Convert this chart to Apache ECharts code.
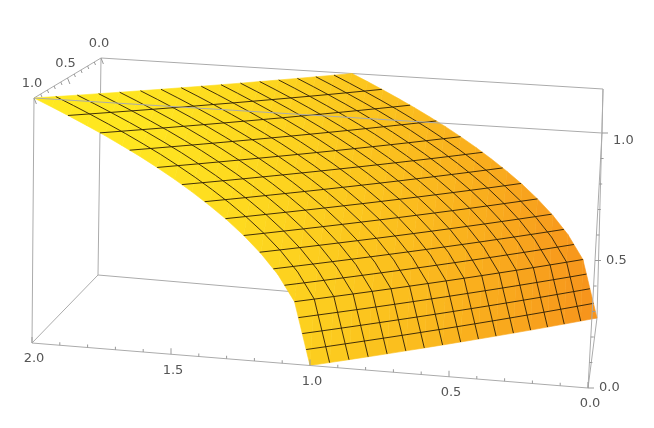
<!DOCTYPE html>
<html>
<head>
<meta charset="utf-8">
<script src="https://cdn.jsdelivr.net/npm/echarts@6/dist/echarts.min.js"></script>
<style>html,body{margin:0;padding:0;background:#fff}#main{width:654px;height:428px}</style>
</head>
<body>
<div id="main"></div>
<script>
// grid of the surface: x across (0..2), y in depth (0 back .. 1 front), step 1/16
var xs = [0, .0625, .125, .1875, .25, .3125, .375, .4375, .5, .5625, .625, .6875, .75, .8125, .875, .9375,
  1, 1.0625, 1.125, 1.1875, 1.25, 1.3125, 1.375, 1.4375, 1.5, 1.5625, 1.625, 1.6875, 1.75, 1.8125, 1.875, 1.9375, 2];
var ys = [0, .0625, .125, .1875, .25, .3125, .375, .4375, .5, .5625, .625, .6875, .75, .8125, .875, .9375, 1];
// height of the surface by how far x runs ahead of y (in 1/16 steps); outside 0..16 nothing is drawn
var levels = [0, .25, .354, .433, .5, .559, .612, .661, .707, .75, .791, .829, .866, .901, .935, .968, 1];
// heights of the contour mesh lines
var meshZ = [.0625, .125, .1875, .25, .3125, .375, .4375, .5, .5625, .625, .6875, .75, .8125, .875, .9375];

var xTicks = ['0.0', '0.5', '1.0', '1.5', '2.0'];
var yTicks = ['0.0', '0.5', '1.0'];
var zTicks = ['0.0', '0.5', '1.0'];

function zAt(i, j) {
  var k = i - j;
  return (k >= 0 && k < levels.length) ? levels[k] : null;
}
// offset (x - y) where the surface reaches height zt, read back from the levels table
function offsetAt(zt) {
  for (var k = 0; k < levels.length - 1; k++) {
    if (zt <= levels[k + 1]) return (k + (zt - levels[k]) / (levels[k + 1] - levels[k])) / 16;
  }
  return 1;
}

// box corners on screen [u=x/2][v=y][w=z]
var C = {
  '000': [597, 318], '001': [603, 89], '010': [588, 388], '011': [602, 133],
  '100': [98, 275], '101': [101, 58], '110': [32, 343], '111': [34, 98]
};
function proj(x, y, z) {
  var u = x / 2, v = y, w = z, p = [0, 0];
  for (var a = 0; a < 2; a++) for (var b = 0; b < 2; b++) for (var c = 0; c < 2; c++) {
    var k = (a ? u : 1 - u) * (b ? v : 1 - v) * (c ? w : 1 - w);
    var q = C['' + a + b + c];
    p[0] += k * q[0]; p[1] += k * q[1];
  }
  return p;
}

// surface cells, back rows first
var cells = [];
for (var j = 0; j < ys.length - 1; j++) {
  for (var i = 0; i < xs.length - 1; i++) {
    var cs = [[i, j], [i + 1, j], [i + 1, j + 1], [i, j + 1]];
    var pts = [];
    cs.forEach(function (c) {
      var z = zAt(c[0], c[1]);
      if (z != null) pts.push(proj(xs[c[0]], ys[c[1]], z));
    });
    if (pts.length < 3) continue;
    var cx = 0;
    pts.forEach(function (p) { cx += p[0] / pts.length; });
    var t = Math.max(0, Math.min(1, (cx - 80) / 510));
    t = Math.pow(t, 1.5);
    var col = 'rgb(' + Math.round(255 - 8 * t) + ',' + Math.round(232 - 84 * t) + ',' + Math.round(32 - 4 * t) + ')';
    cells.push({ pts: pts, color: col });
  }
}

// mesh lines: constant y every 1/16, constant height every 1/16
var mesh = [];
for (var j3 = 1; j3 < ys.length - 1; j3++) {
  var line2 = [];
  for (var i3 = 0; i3 < xs.length; i3++) {
    var z3 = zAt(i3, j3);
    if (z3 != null) line2.push(proj(xs[i3], ys[j3], z3));
  }
  if (line2.length > 1) mesh.push(line2);
}
meshZ.forEach(function (zt) {
  var off = offsetAt(zt), line = [];
  for (var j2 = 0; j2 < ys.length; j2++) line.push(proj(ys[j2] + off, ys[j2], zt));
  mesh.push(line);
});

var boxBack = [['000', '001'], ['000', '010'], ['000', '100'], ['100', '101'], ['100', '110'], ['101', '001'], ['101', '111'], ['001', '011']];
var boxFront = [['110', '111'], ['111', '011'], ['011', '010'], ['010', '110']];

function edgeSeries(list, zz) {
  return {
    type: 'custom', data: list.map(function (e, n) { return n; }), z: zz, silent: true,
    renderItem: function (params, api) {
      var e = list[params.dataIndex];
      var a = api.coord(C[e[0]]), b = api.coord(C[e[1]]);
      return { type: 'line', shape: { x1: a[0], y1: a[1], x2: b[0], y2: b[1] }, style: { stroke: '#ababab', lineWidth: 1 } };
    }
  };
}

var chart = echarts.init(document.getElementById('main'));
chart.setOption({
  animation: false,
  grid: { left: 0, right: 0, top: 0, bottom: 0 },
  xAxis: { type: 'value', min: 0, max: 654, show: false },
  yAxis: { type: 'value', min: 0, max: 428, inverse: true, show: false },
  series: [
    edgeSeries(boxBack, 1),
    {
      type: 'custom', data: cells.map(function (c, n) { return n; }), z: 2, silent: true,
      renderItem: function (params, api) {
        var c = cells[params.dataIndex];
        return {
          type: 'polygon', shape: { points: c.pts.map(function (p) { return api.coord(p); }) },
          style: { fill: c.color, stroke: c.color, lineWidth: 0.6 }
        };
      }
    },
    {
      type: 'custom', data: mesh.map(function (m, n) { return n; }), z: 3, silent: true,
      renderItem: function (params, api) {
        return {
          type: 'polyline', shape: { points: mesh[params.dataIndex].map(function (p) { return api.coord(p); }) },
          style: { stroke: 'rgba(45,30,5,0.9)', lineWidth: 1, fill: null }
        };
      }
    },
    edgeSeries(boxFront, 4),
    {
      type: 'custom', data: [0], z: 5, silent: true,
      renderItem: function (params, api) {
        var ch = [], k;
        var tick = function (p0, d, len) {
          var a = api.coord(p0);
          ch.push({ type: 'line', shape: { x1: a[0], y1: a[1], x2: a[0] + d[0] * len, y2: a[1] + d[1] * len }, style: { stroke: '#999', lineWidth: 1 } });
        };
        var label = function (p0, txt, dx, dy, align) {
          var a = api.coord(p0);
          ch.push({ type: 'text', x: a[0] + dx, y: a[1] + dy, style: { text: txt, fill: '#555', font: '13px "DejaVu Sans"', align: align, verticalAlign: 'middle' } });
        };
        for (k = 0; k <= 20; k++) tick(proj(k / 10, 1, 0), [0, -1], k % 5 ? 3 : 6);
        for (k = 0; k < xTicks.length; k++) label(proj(k * 0.5, 1, 0), xTicks[k], 2, 16, 'center');
        for (k = 0; k <= 10; k++) tick(proj(2, k / 10, 1), [0.4, 1], k % 5 ? 3 : 6);
        for (k = 0; k < yTicks.length; k++) label(proj(2, k * 0.5, 1), yTicks[k], -2, -14, 'center');
        for (k = 0; k <= 10; k++) tick(proj(0, 1, k / 10), [1, 0], k % 5 ? 3 : 6);
        for (k = 0; k < zTicks.length; k++) label(proj(0, 1, k * 0.5), zTicks[k], 11, k === 2 ? 8 : 0, 'left');
        return { type: 'group', children: ch };
      }
    }
  ]
});
</script>
</body>
</html>
